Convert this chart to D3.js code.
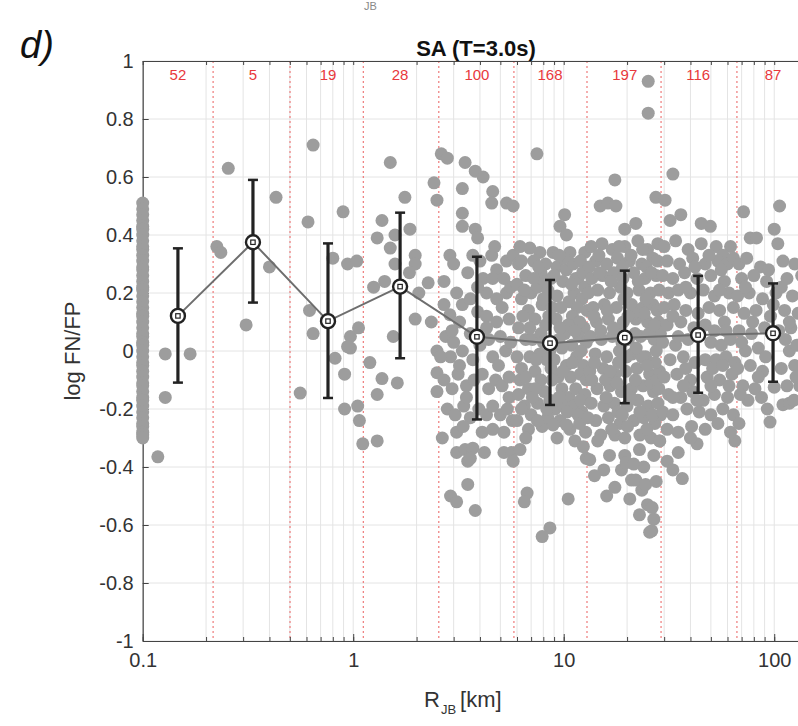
<!DOCTYPE html>
<html>
<head>
<meta charset="utf-8">
<script src="https://d3js.org/d3.v7.min.js"></script>
<style>
  body { margin: 0; background: #fff; }
  svg { display: block; font-family: "Liberation Sans", Arial, sans-serif; }
</style>
</head>
<body>
<div id="chart"></div>
<script>
// Bin summary
var binEdges = [0.216, 0.501, 1.117, 2.55, 5.8, 12.9, 29.0, 66.5];
var binCenters = [0.147, 0.334, 0.759, 1.67, 3.87, 8.61, 19.5, 43.5, 98.7];
var binCounts = [52, 5, 19, 28, 100, 168, 197, 116, 87];
var binMeans = [0.121, 0.375, 0.103, 0.222, 0.049, 0.027, 0.046, 0.055, 0.061];
var binUpper = [0.354, 0.59, 0.371, 0.477, 0.325, 0.245, 0.277, 0.259, 0.233];
var binLower = [-0.109, 0.167, -0.162, -0.025, -0.236, -0.186, -0.18, -0.144, -0.106];

var xTickValues = [0.1, 1, 10, 100];
var yTickValues = [-1, -0.8, -0.6, -0.4, -0.2, 0, 0.2, 0.4, 0.6, 0.8, 1];

// Residual points [R_JB km, log FN/FP]
var ptsBin1 = [[0.1,0.51],[0.1,0.49],[0.1,0.47],[0.1,0.45],[0.1,0.43],[0.1,0.42],[0.1,0.40],[0.1,0.38],
  [0.1,0.36],[0.1,0.35],[0.1,0.33],[0.1,0.31],[0.1,0.29],[0.1,0.28],[0.1,0.26],[0.1,0.24],[0.1,0.22],
  [0.1,0.21],[0.1,0.19],[0.1,0.17],[0.1,0.15],[0.1,0.13],[0.1,0.12],[0.1,0.10],[0.1,0.08],[0.1,0.06],
  [0.1,0.05],[0.1,0.03],[0.1,0.02],[0.1,0.00],[0.1,-0.02],[0.1,-0.04],[0.1,-0.05],[0.1,-0.07],[0.1,-0.09],
  [0.1,-0.11],[0.1,-0.12],[0.1,-0.14],[0.1,-0.16],[0.1,-0.17],[0.1,-0.19],[0.1,-0.21],[0.1,-0.23],
  [0.1,-0.25],[0.1,-0.26],[0.1,-0.28],[0.1,-0.29],[0.1,-0.3],
  [0.128,-0.01],[0.168,-0.01],[0.128,-0.16],[0.118,-0.365]];

var ptsBin2 = [[0.255,0.63],[0.225,0.36],[0.235,0.34],[0.43,0.53],[0.40,0.29],[0.31,0.09]];

var ptsBin3 = [[0.645,0.71],[0.61,0.445],[0.895,0.48],[0.80,0.32],[0.94,0.30],[1.04,0.31],[0.62,0.14],
  [0.645,0.06],[0.97,0.05],[0.97,0.01],[1.06,0.08],[0.82,-0.025],[0.91,-0.08],[0.56,-0.145],[0.91,-0.2],
  [1.05,-0.19],[1.07,-0.24],[1.11,-0.32],[0.94,0.015]];

var ptsBin4 = [[1.50,0.65],[1.76,0.53],[1.37,0.45],[1.30,0.39],[1.58,0.40],[1.86,0.42],[1.50,0.355],
  [1.97,0.33],[1.97,0.30],[1.58,0.30],[1.41,0.24],[2.27,0.235],[1.97,0.11],[1.55,0.05],[2.5,0.0],
  [1.37,-0.095],[1.62,-0.11],[1.30,-0.15],[1.30,-0.31],[2.5,-0.075],[2.5,-0.14],[1.25,0.22],
  [1.85,0.27],[2.05,0.2],[2.42,0.58],[2.5,0.52],[2.35,0.1],[1.2,-0.04]];

var ptsBin5 = [[2.62,0.68],[2.8,0.665],[3.4,0.65],[3.8,0.62],[4.14,0.60],[3.3,0.56],[4.6,0.55],[4.55,0.51],
  [5.35,0.51],[5.75,0.50],[3.3,0.475],[3.3,0.43],[3.8,0.42],[3.9,0.39],
  [2.88,0.33],[4.55,0.33],[3.5,0.27],[4.8,0.28],[5.35,0.31],[5.75,0.33],[3.1,0.20],[4.14,0.25],[4.3,0.20],
  [4.8,0.18],[5.35,0.20],[2.88,0.125],[3.2,0.10],[3.9,0.135],[4.3,0.12],[4.8,0.10],[5.5,0.11],
  [2.7,0.24],[2.75,0.05],[2.9,-0.02],[3.0,0.03],[3.3,0.0],[3.6,0.06],[3.7,-0.03],[4.0,0.02],[4.4,0.04],
  [4.6,-0.02],[5.0,0.05],[5.3,0.0],[5.6,0.03],
  [2.7,-0.1],[2.95,-0.13],[3.15,-0.08],[3.45,-0.12],[3.75,-0.1],[4.1,-0.08],[4.4,-0.13],[4.75,-0.1],
  [5.1,-0.12],[5.5,-0.09],
  [2.8,-0.2],[3.05,-0.22],[3.35,-0.19],[3.6,-0.23],[3.95,-0.2],[4.3,-0.22],[4.6,-0.19],[5.0,-0.22],
  [5.4,-0.2],[5.7,-0.24],[3.1,-0.28],[3.33,-0.26],[4.1,-0.28],[4.6,-0.27],[5.2,-0.28],
  [3.0,0.30],[3.7,0.33],[4.0,0.31],[5.6,0.22],[3.3,0.16],[2.7,0.16],[5.1,0.15],[4.6,0.25],[3.9,0.22],
  [4.9,-0.05],[3.2,-0.05],[4.3,0.08],[3.6,0.18],[5.2,0.25],[2.95,0.07],[4.7,0.36],[5.5,-0.16],[2.6,-0.02],
  [3.45,-0.16],
  [3.1,-0.35],[3.4,-0.34],[3.7,-0.335],[4.2,-0.35],[3.5,-0.38],[3.6,-0.37],[5.2,-0.35],[5.65,-0.35],
  [5.75,-0.38],[3.5,-0.46],[2.9,-0.50],[3.1,-0.52],[3.8,-0.55],[2.65,-0.3]];

var ptsBin6 = [[7.46,0.68],[10.1,0.47],[9.6,0.43],[10.3,0.40],
  [12.8,-0.37],[6.7,-0.49],[6.5,-0.52],[10.5,-0.51],[8.6,-0.61],[7.9,-0.64],[6.2,-0.34],
  [6.9,0.355],[7.7,0.34],[8.9,0.34],[10.7,0.34],[12.6,0.34],[6.2,0.36],
  [6.1,0.30],[7.2,0.31],[8.2,0.30],[9.3,0.29],[10.3,0.28],[11.1,0.30],[12.0,0.31],
  [6.6,0.26],[7.8,0.27],[8.7,0.25],[9.9,0.24],[11.7,0.25],[12.6,0.22],[6.0,0.23],
  [6.3,0.18],[7.0,0.20],[7.5,0.22],[8.4,0.21],[9.3,0.19],[10.6,0.17],[11.2,0.20],[12.2,0.18],
  [6.8,0.14],[7.9,0.16],[8.8,0.15],[9.7,0.15],[11.6,0.15],[7.3,0.11],
  [6.1,0.08],[8.2,0.09],[9.2,0.11],[10.1,0.06],[12.5,0.08],[11.0,0.12],
  [6.6,0.04],[7.1,0.04],[7.8,0.06],[8.6,0.0],[9.5,0.04],[10.9,0.02],[11.8,0.05],[12.8,0.03],
  [6.0,-0.02],[6.9,-0.02],[7.7,-0.01],[9.0,-0.03],[10.3,-0.05],[11.5,-0.02],[12.4,-0.05],[8.3,-0.03],
  [6.3,-0.06],[7.3,-0.07],[8.7,-0.06],[9.4,-0.09],[10.8,-0.09],[12.0,-0.08],[7.8,-0.1],
  [6.1,-0.15],[6.8,-0.13],[8.1,-0.14],[9.8,-0.13],[10.6,-0.16],[11.4,-0.13],[12.6,-0.15],[7.3,-0.13],
  [6.5,-0.19],[7.5,-0.18],[8.6,-0.17],[9.1,-0.20],[10.0,-0.19],[11.1,-0.19],[12.2,-0.21],[7.0,-0.22],
  [6.0,-0.24],[6.8,-0.27],[7.9,-0.26],[8.4,-0.23],[9.6,-0.24],[10.7,-0.27],[11.7,-0.22],[12.7,-0.28],
  [8.9,-0.255],[10.3,-0.255],
  [6.6,-0.3],[9.3,-0.3],[11.3,-0.31],[12.4,-0.33],
  [6.4,0.12],[7.6,0.29],[9.0,0.26],[10.0,0.32],[11.9,0.1],[8.0,0.18],[9.8,0.01],[11.4,0.25],[12.9,0.14],
  [6.3,0.31],[7.4,-0.03],[8.5,0.12],[10.5,0.09],[9.5,-0.16],[11.9,-0.25],[7.1,-0.16],[6.2,-0.1],[12.1,0.0],
  [6.5,0.21],[7.2,0.25],[8.1,0.24],[9.5,0.33],[10.9,0.23],[12.3,0.27],[6.9,0.08],[8.0,0.03],[9.6,0.08],
  [11.3,0.07],[12.8,-0.1],[6.6,-0.09],[8.3,-0.2],[9.9,-0.07],[11.0,-0.04],[7.5,-0.24],[10.4,-0.21],
  [12.0,-0.17],[6.3,-0.2],[8.8,-0.1]];

var ptsBin7 = [[14.9,0.50],[16.2,0.51],[17.7,0.50],[17.5,0.59],[25.2,0.93],[25.2,0.82],[27.4,0.53],[22,0.44],
  [19.5,0.42],
  [13.5,0.36],[15.2,0.37],[17,0.35],[19.5,0.36],[22.5,0.38],[25,0.35],[28,0.37],
  [14.2,0.31],[16,0.30],[18,0.32],[20.5,0.31],[23.5,0.30],[26.5,0.32],[13.2,0.29],
  [13.6,0.25],[15.3,0.26],[17.3,0.27],[19.1,0.25],[21.5,0.27],[24.3,0.25],[27.5,0.26],
  [14.5,0.21],[16.5,0.2],[18.6,0.22],[20,0.2],[22.8,0.21],[25.8,0.2],[28.4,0.21],[13.1,0.2],
  [13.8,0.15],[15.6,0.16],[17.8,0.15],[21,0.16],[23.8,0.15],[26.5,0.16],
  [14.3,0.1],[16.3,0.11],[19.2,0.1],[22,0.11],[25,0.1],[28.2,0.1],[18,0.07],
  [13.4,0.05],[15.1,0.04],[17,0.05],[20.3,0.04],[23.2,0.05],[26.9,0.04],[28.8,0.06],
  [14.1,-0.01],[16,-0.02],[18.4,0],[21.2,-0.01],[24.5,-0.02],[27.5,0],
  [13.3,-0.07],[15.4,-0.06],[17.5,-0.08],[19.7,-0.07],[22.3,-0.06],[25.6,-0.08],[28.5,-0.07],
  [14.4,-0.13],[16.6,-0.12],[18.8,-0.14],[21,-0.13],[23.8,-0.12],[26.7,-0.14],
  [13.5,-0.18],[15.5,-0.19],[17.4,-0.18],[20,-0.19],[22.5,-0.17],[25.2,-0.19],[28,-0.18],
  [14.2,-0.24],[16.3,-0.23],[18.5,-0.25],[21.5,-0.24],[24,-0.23],[27.1,-0.25],[13.0,-0.23],
  [15,-0.29],[17.5,-0.29],[19.5,-0.3],[23,-0.29],[26,-0.3],[28.6,-0.31],
  [14.5,-0.31],[16.5,-0.36],[18.8,-0.41],[21,-0.445],[23.5,-0.48],[25,-0.53],[26.8,-0.58],[26.2,-0.62],
  [22.9,-0.565],[20.6,-0.51],[17.5,-0.47],[15.5,-0.41],[19.5,-0.36],[22.9,-0.34],[26.8,-0.36],[28.5,-0.31],
  [13.3,-0.375],[19.8,-0.385],[22,-0.445],[24.5,-0.46],[26.3,-0.54],[25.6,-0.625],[24,-0.4],[27.5,-0.45],
  [21.5,-0.39],[14,-0.43],[16,-0.5],
  [13.9,0.12],[16.8,0.24],[19.3,0.18],[21.8,0.06],[24.7,0.29],[27.8,0.14],[15.8,-0.1],[18.2,-0.04],
  [20.7,-0.16],[23.5,-0.02],[26,-0.11],[28.9,-0.22],[17.2,0.08],[20.9,0.33],[25.4,0.06],[14.7,0.33],
  [16.9,-0.27],[19,0.29],[22.6,0.24],[27.2,-0.04],[24.1,0.13],[13.6,-0.1],[18.1,-0.21],[21.4,0.13],
  [26.1,0.27],[28.3,-0.13],
  [15.0,0.07],[16.1,0.14],[18.9,0.03],[20.2,0.12],[22.1,0.01],[24.6,0.18],[27.0,0.09],[14.0,-0.04],
  [17.9,-0.11],[19.9,-0.02],[21.9,-0.1],[24.9,-0.05],[27.7,-0.1],[15.9,-0.16],[19.0,-0.22],[23.0,-0.21],
  [26.4,-0.22],[14.8,0.27],[18.3,0.36],[23.7,0.35],[27.9,0.31],[20.1,-0.26],[24.8,-0.27],[16.6,-0.07]];

var ptsBin8 = [[33,0.61],[30.3,0.52],[49.7,0.43],[53,0.36],[62,0.36],[36,0.47],[65,-0.31],[36.6,-0.44],
  [43,-0.32],[35,-0.35],[31,-0.38],[33,-0.41],[40,-0.3],[32,0.45],
  [30,0.36],[34,0.38],[39,0.35],[45,0.37],[57,0.33],
  [31,0.31],[35.5,0.3],[41,0.32],[47,0.3],[54,0.31],[60,0.3],[64,0.32],
  [29.5,0.26],[33,0.25],[37.5,0.27],[43,0.25],[50,0.26],[58,0.24],
  [31.5,0.2],[35,0.21],[40,0.2],[46,0.21],[52,0.19],[61,0.2],
  [30,0.15],[33.5,0.16],[38,0.14],[49,0.15],[55,0.14],[64,0.15],
  [31,0.09],[36,0.1],[41.5,0.08],[47,0.09],[58,0.1],[52,0.07],
  [29.5,0.03],[34,0.02],[39,0.04],[50,0.03],[56,0.02],[62,0.04],
  [32,-0.03],[37,-0.02],[42,-0.04],[47,-0.03],[53,-0.03],[59,-0.02],[65,-0.04],
  [30,-0.09],[34.5,-0.08],[40,-0.1],[48,-0.09],[55,-0.1],[63,-0.08],
  [31.5,-0.15],[36,-0.16],[41,-0.14],[46,-0.17],[52,-0.15],[60,-0.16],
  [29.5,-0.21],[33,-0.22],[38.5,-0.2],[44,-0.21],[50,-0.22],[57,-0.2],[64,-0.22],
  [31,-0.27],[35,-0.28],[40.5,-0.26],[47,-0.27],[54,-0.25],[62,-0.28],
  [45,0.44],[43.5,0.13],[38,-0.06],[61,-0.12],[56,0.28],[51,-0.06],[35,0.05],[42,0.29],[59,0.07],
  [33,0.12],[38,0.22],[44,0.06],[49,0.33],[55,0.21],[37,-0.12],[43,-0.17],[57,-0.05],[33,-0.16],[50,-0.12]];

var ptsBin9 = [[71.5,0.48],[106,0.5],[76.9,0.39],[82.4,0.39],[100,0.42],[104,0.37],[110,0.31],[95.5,-0.245],
  [92.7,-0.2],[110,-0.185],[118,-0.18],[100,-0.125],[68,-0.25],
  [68,0.3],[74,0.32],[86,0.29],[125,0.3],
  [70,0.25],[80,0.26],[92,0.24],[115,0.25],[135,0.26],
  [67,0.19],[76,0.2],[88,0.18],[102,0.2],[122,0.19],
  [72,0.13],[82,0.14],[96,0.12],[112,0.14],[130,0.13],
  [68,0.07],[78,0.06],[90,0.08],[105,0.07],[120,0.08],[140,0.07],
  [73,0.0],[84,0.01],[118,0.0],[128,0.02],[70,0.03],
  [67,-0.06],[77,-0.05],[88,-0.07],[108,-0.06],[125,-0.05],
  [71,-0.12],[81,-0.13],[115,-0.12],[132,-0.12],[75,-0.17],
  [87,-0.16],[124,-0.17],
  [79,0.1],[94,0.28],[108,0.22],[69,-0.15],[84,-0.09],[99,0.16],[113,0.04],[127,-0.09],[73,0.22],
  [91,-0.02],[140,0.2],[118,0.1]];

// Chart setup
var svgWidth = 798;
var svgHeight = 726;
var margin = { top: 61, left: 142.7 };
var width = 668.6;   // plot runs past the right edge of the picture
var height = 580;

var svg = d3.select("#chart")
  .append("svg")
  .attr("width", svgWidth)
  .attr("height", svgHeight);

var chartGroup = svg.append("g")
  .attr("transform", `translate(${margin.left}, ${margin.top})`);

var xScale = d3.scaleLog().domain([0.1, 150]).range([0, width]);
var yScale = d3.scaleLinear().domain([-1, 1]).range([height, 0]);

var minorTicks = xScale.ticks();

// grid
chartGroup.append("g").selectAll("line")
  .data(minorTicks)
  .enter().append("line")
  .attr("x1", d => xScale(d)).attr("x2", d => xScale(d))
  .attr("y1", 0).attr("y2", height)
  .attr("stroke", "#e4e4e4").attr("stroke-width", 1);

chartGroup.append("g").selectAll("line")
  .data(yTickValues)
  .enter().append("line")
  .attr("x1", 0).attr("x2", width)
  .attr("y1", d => yScale(d)).attr("y2", d => yScale(d))
  .attr("stroke", "#e4e4e4").attr("stroke-width", 1);

// bin edges
chartGroup.append("g").selectAll("line")
  .data(binEdges)
  .enter().append("line")
  .attr("x1", d => xScale(d)).attr("x2", d => xScale(d))
  .attr("y1", 0).attr("y2", height)
  .attr("stroke", "#ee7a7a").attr("stroke-width", 1.2)
  .attr("stroke-dasharray", "2,3");

// axes
var axisColor = "#444";
var bottomAxis = d3.axisBottom(xScale).tickValues(xTickValues)
  .tickFormat(d3.format("~g")).tickSizeInner(-7).tickSizeOuter(0).tickPadding(12);
var bottomMinor = d3.axisBottom(xScale).tickValues(minorTicks).tickFormat("")
  .tickSizeInner(-4).tickSizeOuter(0);
var topMinor = d3.axisTop(xScale).tickValues(minorTicks).tickFormat("")
  .tickSizeInner(-4).tickSizeOuter(0);
var leftAxis = d3.axisLeft(yScale).tickValues(yTickValues)
  .tickFormat(d => d === 0 ? "0" : String(+d.toFixed(1)))
  .tickSizeInner(-6).tickSizeOuter(0).tickPadding(9);

chartGroup.append("g")
  .attr("transform", `translate(0, ${height})`)
  .call(bottomAxis);
chartGroup.append("g").attr("transform", `translate(0, ${height})`).call(bottomMinor);
chartGroup.append("g").call(topMinor);
chartGroup.append("g").call(leftAxis);

chartGroup.selectAll(".domain").attr("stroke", axisColor).attr("stroke-width", 1.2);
chartGroup.selectAll(".tick line").attr("stroke", axisColor);
chartGroup.selectAll(".tick text").attr("fill", "#333").attr("font-size", "20px")
  .attr("font-family", "Liberation Sans, Arial, sans-serif");

// points
var allPts = ptsBin1.concat(ptsBin2, ptsBin3, ptsBin4, ptsBin5, ptsBin6, ptsBin7, ptsBin8, ptsBin9);
chartGroup.append("g").selectAll("circle")
  .data(allPts)
  .enter().append("circle")
  .attr("cx", d => xScale(d[0]))
  .attr("cy", d => yScale(d[1]))
  .attr("r", 6.5)
  .attr("fill", "#9d9d9d");

// binned means
var bins = binCenters.map((c, i) => ({ x: c, m: binMeans[i], lo: binLower[i], hi: binUpper[i], n: binCounts[i] }));

chartGroup.append("path")
  .datum(bins)
  .attr("fill", "none")
  .attr("stroke", "#6e6e6e")
  .attr("stroke-width", 2)
  .attr("d", d3.line().x(d => xScale(d.x)).y(d => yScale(d.m)));

var errG = chartGroup.append("g").attr("stroke", "#222");
errG.selectAll("line.bar")
  .data(bins).enter().append("line")
  .attr("x1", d => xScale(d.x)).attr("x2", d => xScale(d.x))
  .attr("y1", d => yScale(d.hi)).attr("y2", d => yScale(d.lo))
  .attr("stroke-width", 3.2);
errG.selectAll("line.capTop")
  .data(bins).enter().append("line")
  .attr("x1", d => xScale(d.x) - 5).attr("x2", d => xScale(d.x) + 5)
  .attr("y1", d => yScale(d.hi)).attr("y2", d => yScale(d.hi))
  .attr("stroke-width", 2.5);
errG.selectAll("line.capBot")
  .data(bins).enter().append("line")
  .attr("x1", d => xScale(d.x) - 5).attr("x2", d => xScale(d.x) + 5)
  .attr("y1", d => yScale(d.lo)).attr("y2", d => yScale(d.lo))
  .attr("stroke-width", 2.5);

chartGroup.append("g").selectAll("circle")
  .data(bins).enter().append("circle")
  .attr("cx", d => xScale(d.x)).attr("cy", d => yScale(d.m))
  .attr("r", 7)
  .attr("fill", "#fff").attr("stroke", "#222").attr("stroke-width", 2.4);
chartGroup.append("g").selectAll("rect")
  .data(bins).enter().append("rect")
  .attr("x", d => xScale(d.x) - 2.2).attr("y", d => yScale(d.m) - 2.2)
  .attr("width", 4.4).attr("height", 4.4)
  .attr("fill", "none").attr("stroke", "#222").attr("stroke-width", 1.2);

// counts per bin
chartGroup.append("g").selectAll("text")
  .data(bins).enter().append("text")
  .attr("x", d => xScale(d.x))
  .attr("y", 19)
  .attr("text-anchor", "middle")
  .attr("font-size", "15px")
  .attr("fill", "#e8383c")
  .text(d => d.n);

// labels
chartGroup.append("text")
  .attr("x", width / 2 - 1)
  .attr("y", -5)
  .attr("text-anchor", "middle")
  .attr("font-size", "22px")
  .attr("font-weight", "bold")
  .attr("fill", "#111")
  .text("SA (T=3.0s)");

chartGroup.append("text")
  .attr("transform", `translate(${-63}, ${height / 2}) rotate(-90)`)
  .attr("text-anchor", "middle")
  .attr("font-size", "22px")
  .attr("fill", "#333")
  .text("log FN/FP");

var xLabel = svg.append("text")
  .attr("x", 424)
  .attr("y", 707)
  .attr("font-size", "22px")
  .attr("fill", "#333");
xLabel.append("tspan").text("R");
xLabel.append("tspan").attr("font-size", "13px").attr("dy", 7).attr("dx", 1).text("JB");
xLabel.append("tspan").attr("dy", -7).attr("dx", 4).text("[km]");

svg.append("text")
  .attr("x", 20)
  .attr("y", 58)
  .attr("font-size", "38px")
  .attr("font-style", "italic")
  .attr("fill", "#111")
  .text("d)");

// remnant of the panel above
svg.append("text")
  .attr("x", 364)
  .attr("y", 10)
  .attr("font-size", "11px")
  .attr("fill", "#888")
  .text("JB");
</script>
</body>
</html>
